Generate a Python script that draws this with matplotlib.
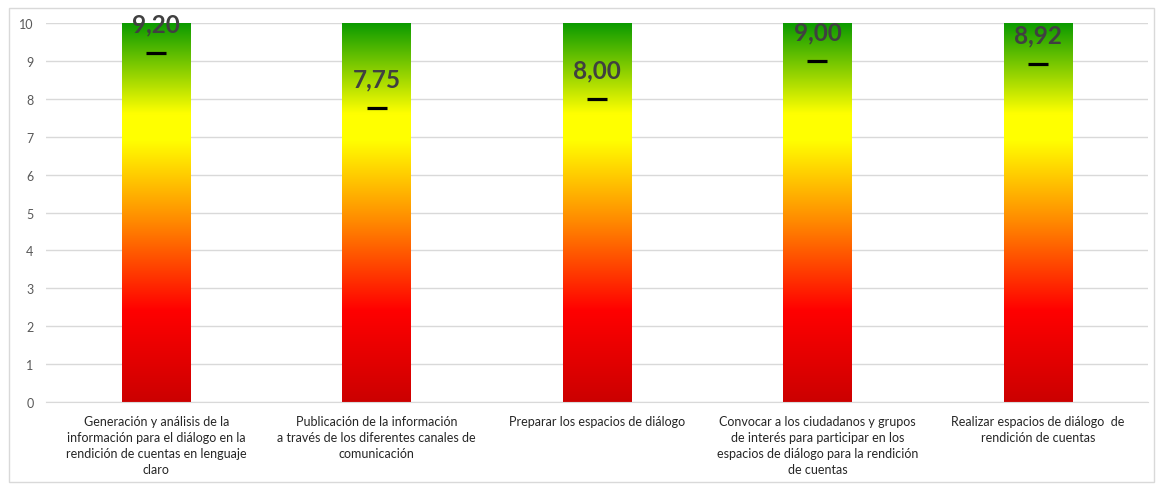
import matplotlib
matplotlib.use("Agg")
import matplotlib.pyplot as plt
import numpy as np
from matplotlib.colors import LinearSegmentedColormap
from matplotlib.patches import Rectangle

categories = [
    "Generación y análisis de la\ninformación para el diálogo en la\nrendición de cuentas en lenguaje\nclaro",
    "Publicación de la información\na través de los diferentes canales de\ncomunicación",
    "Preparar los espacios de diálogo",
    "Convocar a los ciudadanos y grupos\nde interés para participar en los\nespacios de diálogo para la rendición\nde cuentas",
    "Realizar espacios de diálogo  de\nrendición de cuentas",
]
values = [9.20, 7.75, 8.00, 9.00, 8.92]
scale_max = [10, 10, 10, 10, 10]
y_ticks = [0, 1, 2, 3, 4, 5, 6, 7, 8, 9, 10]

plt.rcParams['font.family'] = ['Lato', 'DejaVu Sans']

fig = plt.figure(figsize=(11.56, 4.85), dpi=100)
fig.patches.append(Rectangle((0.008, 0.004), 0.990, 0.978, transform=fig.transFigure,
                             fill=False, edgecolor='#d9d9d9', linewidth=1.0))
ax = fig.add_axes([0.0398, 0.169, 0.9533, 0.7815])

cmap = LinearSegmentedColormap.from_list('grad', [
    (0.00, '#cc0000'),
    (0.24, '#ff0000'),
    (0.48, '#ff8c00'),
    (0.69, '#ffff00'),
    (0.76, '#ffff00'),
    (1.00, '#0a9a00'),
])

x = np.arange(len(categories))
bars = ax.bar(x, scale_max, width=0.31, color='none', edgecolor='none', zorder=2)
grad = np.linspace(0, 1, 256).reshape(-1, 1)
for b in bars:
    x0, w, h = b.get_x(), b.get_width(), b.get_height()
    ax.imshow(grad, cmap=cmap, origin='lower', aspect='auto',
              extent=[x0, x0 + w, 0, h], zorder=2, interpolation='bilinear')

ax.plot(x, values, linestyle='none', marker='_', markersize=14.5,
        markeredgewidth=2.3, color='black', zorder=4)
for xi, v in zip(x, values):
    ax.annotate(f"{v:.2f}".replace('.', ','), (xi, v), xytext=(0, 21),
                textcoords='offset points', ha='center', va='center',
                fontsize=17.5, fontweight='bold', color='#404040', zorder=5,
                annotation_clip=False)

ax.set_xlim(-0.5, len(categories) - 0.5)
ax.set_ylim(0, 10)
ax.set_yticks(y_ticks)
ax.set_yticklabels([str(t) for t in y_ticks], fontsize=9, color='#595959')
ax.yaxis.grid(True, color='#d9d9d9', linewidth=1.0, zorder=0)
ax.set_axisbelow(True)
ax.set_xticks(x)
ax.set_xticklabels(categories, fontsize=9, color='#262626', linespacing=1.42)
ax.tick_params(axis='both', length=0)
ax.tick_params(axis='x', pad=9)
ax.tick_params(axis='y', pad=9)
for s in ['top', 'right', 'left']:
    ax.spines[s].set_visible(False)
ax.spines['bottom'].set_color('#d9d9d9')

fig.savefig('out.png', dpi=100)
